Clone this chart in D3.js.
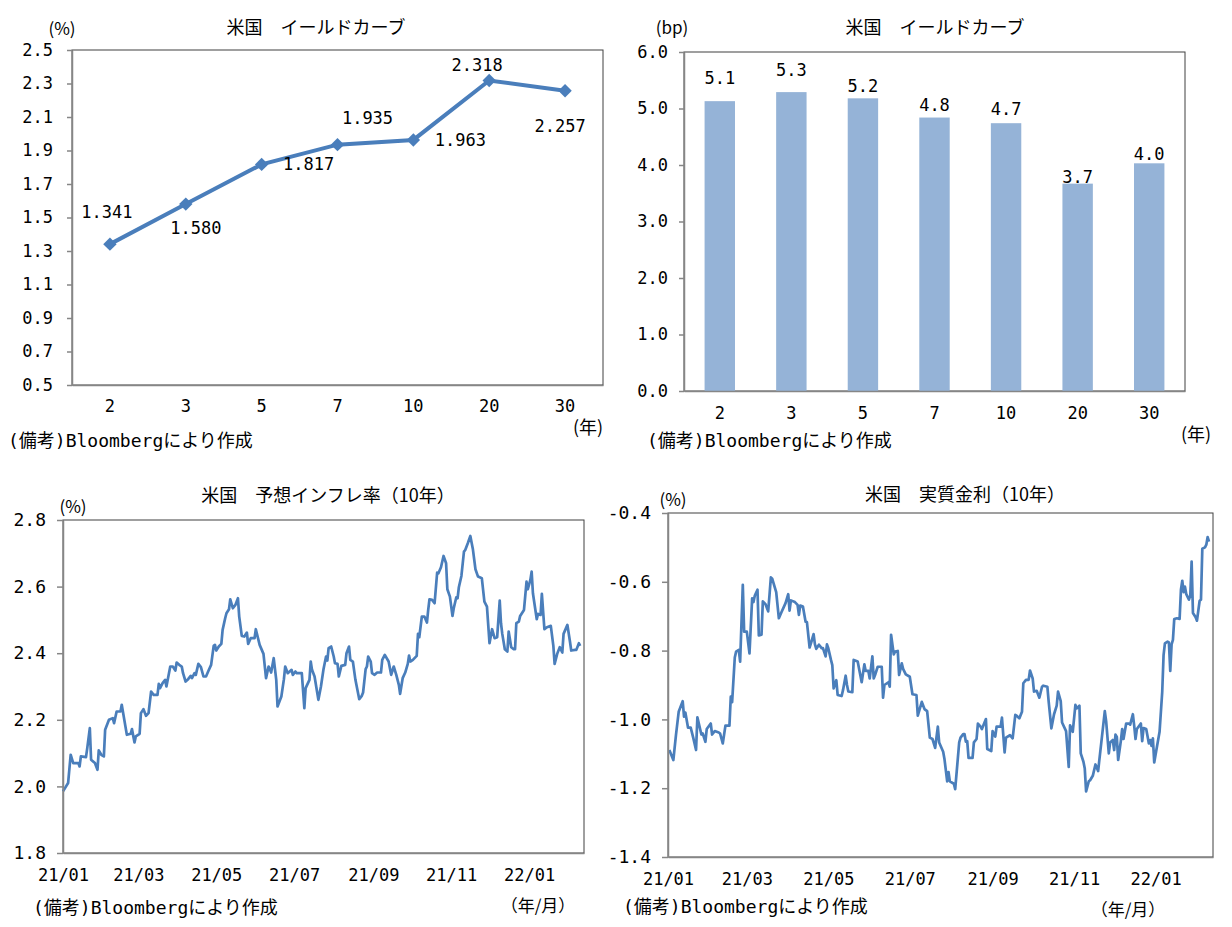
<!DOCTYPE html>
<html>
<head>
<meta charset="utf-8">
<script src="https://cdn.jsdelivr.net/npm/d3@7"></script>
<style>
body { margin: 0; background: #fff; }
</style>
</head>
<body>
<div id="chart"></div>
<script>
// --- top left: US yield curve (%) ---
var maturities = ['2', '3', '5', '7', '10', '20', '30'];
var yields = [1.341, 1.580, 1.817, 1.935, 1.963, 2.318, 2.257];
var yieldTicks = [0.5, 0.7, 0.9, 1.1, 1.3, 1.5, 1.7, 1.9, 2.1, 2.3, 2.5];

// --- top right: change by maturity (bp) ---
var changes = [5.13, 5.29, 5.18, 4.84, 4.74, 3.67, 4.03];
var changeTicks = [0, 1, 2, 3, 4, 5, 6];

// --- bottom: daily series, x = days since 2021-01-01 ---
var inflDays = [0, 4, 6, 8, 12, 13, 14, 18, 19, 21, 22, 25, 27, 28, 30, 32, 33, 36, 39, 40, 42, 45, 46, 50, 53, 54, 56, 57, 60, 61,
    63, 65, 67, 69, 71, 74, 75, 76, 78, 80, 81, 84, 86, 88, 89, 91, 93, 94, 96, 98, 100, 101, 103, 104, 106, 108, 110, 112, 114, 116,
    118, 119, 120, 122, 124, 125, 127, 128, 130, 131, 133, 135, 137, 138, 140, 142, 144, 145, 147, 150, 151, 154, 157, 159, 161, 163, 165, 167, 168, 171,
    173, 174, 176, 179, 180, 182, 183, 187, 189, 190, 193, 194, 195, 197, 200, 202, 204, 206, 207, 208, 210, 212, 213, 215, 216, 218, 221, 222, 224, 225,
    227, 229, 232, 234, 235, 237, 238, 239, 241, 242, 244, 246, 249, 250, 252, 255, 257, 259, 261, 263, 264, 266, 268, 270, 271, 272, 274, 277, 278, 279,
    281, 283, 285, 286, 287, 289, 291, 293, 294, 296, 298, 300, 301, 303, 305, 306, 308, 309, 310, 312, 314, 315, 317, 319, 320, 321, 323, 325, 328, 330,
    332, 334, 336, 338, 340, 342, 343, 344, 346, 348, 349, 351, 353, 354, 355, 357, 358, 361, 363, 364, 366, 367, 368, 371, 372, 374, 375, 377, 379, 382,
    384, 385, 387, 389, 391, 392, 395, 397, 398, 401, 402, 404, 405];
var inflRates = [1.985, 2.01, 2.095, 2.07, 2.07, 2.06, 2.09, 2.088, 2.115, 2.175, 2.08, 2.07, 2.05, 2.108, 2.095, 2.09, 2.17, 2.2, 2.205, 2.19, 2.225, 2.225, 2.245, 2.155, 2.158, 2.172, 2.132, 2.15, 2.158, 2.22,
    2.232, 2.212, 2.22, 2.285, 2.275, 2.275, 2.308, 2.295, 2.31, 2.32, 2.3, 2.36, 2.36, 2.348, 2.372, 2.365, 2.36, 2.34, 2.315, 2.322, 2.332, 2.325, 2.34, 2.335, 2.368, 2.358, 2.33, 2.33, 2.348, 2.365,
    2.422, 2.425, 2.408, 2.42, 2.428, 2.47, 2.505, 2.52, 2.532, 2.562, 2.535, 2.545, 2.565, 2.51, 2.452, 2.45, 2.462, 2.428, 2.445, 2.445, 2.472, 2.425, 2.398, 2.325, 2.36, 2.342, 2.385, 2.32, 2.24, 2.27,
    2.322, 2.36, 2.34, 2.35, 2.335, 2.345, 2.34, 2.34, 2.235, 2.295, 2.32, 2.375, 2.35, 2.33, 2.26, 2.3, 2.352, 2.39, 2.378, 2.415, 2.42, 2.39, 2.37, 2.368, 2.33, 2.362, 2.365, 2.4, 2.42, 2.38,
    2.375, 2.32, 2.262, 2.272, 2.282, 2.352, 2.36, 2.39, 2.375, 2.34, 2.335, 2.342, 2.342, 2.38, 2.395, 2.375, 2.335, 2.36, 2.335, 2.305, 2.278, 2.325, 2.342, 2.368, 2.393, 2.375, 2.38, 2.392, 2.458, 2.448,
    2.51, 2.51, 2.492, 2.53, 2.562, 2.56, 2.55, 2.642, 2.64, 2.658, 2.692, 2.67, 2.592, 2.57, 2.512, 2.535, 2.568, 2.565, 2.598, 2.632, 2.705, 2.71, 2.73, 2.752, 2.732, 2.712, 2.652, 2.63, 2.625, 2.555,
    2.54, 2.43, 2.472, 2.445, 2.448, 2.558, 2.49, 2.458, 2.412, 2.405, 2.465, 2.418, 2.412, 2.412, 2.49, 2.495, 2.512, 2.53, 2.615, 2.592, 2.62, 2.645, 2.58, 2.502, 2.518, 2.515, 2.578, 2.472, 2.478, 2.482,
    2.422, 2.368, 2.398, 2.418, 2.402, 2.458, 2.485, 2.435, 2.408, 2.41, 2.41, 2.43, 2.422];
var inflTicks = [1.8, 2.0, 2.2, 2.4, 2.6, 2.8];

var realDays = [1, 4, 6, 8, 11, 12, 13, 15, 17, 19, 21, 22, 25, 26, 28, 29, 32, 33, 35, 38, 39, 41, 43, 46, 47, 48, 50, 51, 53, 54,
    56, 57, 59, 61, 63, 64, 65, 67, 68, 70, 71, 73, 75, 76, 77, 78, 81, 83, 85, 88, 90, 91, 92, 95, 97, 98, 99, 101, 103, 104,
    106, 107, 109, 110, 111, 113, 115, 116, 118, 119, 120, 122, 123, 124, 126, 127, 130, 131, 133, 134, 135, 138, 139, 142, 145, 147, 148, 150, 151, 153,
    154, 155, 157, 160, 161, 162, 165, 166, 167, 169, 170, 172, 173, 175, 176, 178, 181, 183, 186, 187, 190, 192, 194, 196, 198, 200, 202, 203, 206, 207,
    209, 210, 211, 214, 215, 218, 219, 221, 222, 223, 224, 225, 228, 229, 231, 232, 234, 235, 238, 239, 242, 243, 245, 246, 249, 250, 252, 253, 256, 258,
    260, 261, 263, 265, 266, 268, 270, 271, 273, 274, 276, 278, 280, 281, 284, 285, 287, 289, 291, 292, 294, 295, 298, 300, 301, 303, 305, 306, 308, 309,
    311, 312, 313, 315, 316, 318, 320, 322, 325, 327, 328, 330, 331, 333, 334, 335, 336, 337, 339, 340, 341, 343, 345, 346, 348, 349, 350, 351, 354, 355,
    356, 358, 360, 361, 362, 363, 364, 366, 368, 370, 371, 372, 374, 375, 376, 377, 378, 379, 381, 383, 384, 385, 386, 387, 388, 390, 391, 392, 393, 395,
    396, 398, 399, 400, 402, 403, 404, 405];
var realRates = [-1.089, -1.118, -1.044, -0.978, -0.947, -0.992, -0.98, -1.024, -1.024, -1.055, -1.089, -0.994, -1.044, -1.041, -1.065, -1.028, -1.012, -1.044, -1.034, -1.038, -1.041, -1.07, -1.018, -1.018, -0.934, -0.95, -0.82, -0.803, -0.798, -0.832,
    -0.609, -0.745, -0.745, -0.808, -0.648, -0.659, -0.64, -0.623, -0.756, -0.754, -0.657, -0.665, -0.686, -0.638, -0.587, -0.591, -0.63, -0.706, -0.688, -0.662, -0.636, -0.684, -0.654, -0.659, -0.667, -0.696, -0.669, -0.672, -0.716, -0.717,
    -0.791, -0.779, -0.752, -0.782, -0.795, -0.783, -0.793, -0.793, -0.817, -0.782, -0.793, -0.827, -0.842, -0.91, -0.886, -0.929, -0.932, -0.915, -0.873, -0.9, -0.919, -0.921, -0.827, -0.832, -0.892, -0.84, -0.859, -0.859, -0.881, -0.817,
    -0.881, -0.871, -0.847, -0.847, -0.937, -0.9, -0.892, -0.905, -0.754, -0.811, -0.803, -0.801, -0.871, -0.837, -0.853, -0.869, -0.876, -0.927, -0.929, -0.989, -0.949, -0.97, -0.976, -1.053, -1.057, -1.083, -1.021, -1.067, -1.094, -1.116,
    -1.18, -1.153, -1.18, -1.187, -1.203, -1.067, -1.053, -1.043, -1.043, -1.065, -1.063, -1.112, -1.112, -1.067, -1.057, -1.012, -1.021, -1.028, -0.999, -1.086, -1.092, -1.034, -1.05, -1.021, -1.021, -0.995, -1.096, -1.053, -1.046, -1.055,
    -0.987, -0.989, -0.997, -0.978, -0.895, -0.885, -0.885, -0.858, -0.881, -0.919, -0.917, -0.937, -0.905, -0.902, -0.905, -0.949, -1.026, -0.985, -0.96, -0.919, -0.947, -1.009, -1.034, -1.138, -1.017, -1.036, -0.958, -0.968, -0.96, -1.099,
    -1.123, -1.143, -1.209, -1.18, -1.177, -1.164, -1.131, -1.15, -1.046, -0.976, -1.005, -1.099, -1.067, -1.06, -1.089, -1.044, -1.051, -1.118, -1.063, -1.028, -1.057, -1.012, -1.012, -1.015, -0.985, -1.018, -1.057, -1.028, -1.012, -1.063,
    -1.025, -1.028, -1.07, -1.06, -1.077, -1.055, -1.125, -1.08, -1.036, -0.919, -0.813, -0.779, -0.774, -0.776, -0.859, -0.782, -0.769, -0.708, -0.706, -0.708, -0.623, -0.597, -0.63, -0.614, -0.636, -0.652, -0.64, -0.541, -0.691, -0.703,
    -0.713, -0.655, -0.652, -0.504, -0.5, -0.492, -0.47, -0.483];
var realTicks = [-1.4, -1.2, -1.0, -0.8, -0.6, -0.4];

var startDate = new Date(2021, 0, 1);
var endDate = new Date(2022, 1, 13);

// label offsets (px) for the yield curve values, as placed in the original
var yieldLabelOffsets = [[-3, -32], [10, 24], [47, 0], [30, -27], [47, 0], [-12, -15], [-5, 35]];
var changeLabelOffsets = [-23, -22, -12, -12, -14, -7, -9];

var JP = '"Noto Sans CJK JP", sans-serif';
var NUM = '"DejaVu Sans Mono", monospace';
var BLUE = '#4a7ebb';
var AXIS = '#868686';

var svg = d3.select('#chart')
    .append('svg')
    .attr('width', 1232)
    .attr('height', 927)
    .style('background', '#fff');

function label(x, y, str, font, size, anchor) {
    return svg.append('text')
        .attr('x', x)
        .attr('y', y)
        .attr('dy', '0.35em')
        .attr('font-family', font)
        .attr('font-size', size)
        .attr('text-anchor', anchor || 'middle')
        .attr('fill', '#000')
        .text(str);
}

// source note: Japanese text, half-width parts in the monospaced font
function note(x, y) {
    var t = svg.append('text')
        .attr('x', x)
        .attr('y', y)
        .attr('dy', '0.35em')
        .attr('font-family', JP)
        .attr('font-size', 18)
        .attr('fill', '#000');
    t.append('tspan').attr('font-family', NUM).text('(');
    t.append('tspan').text('備考');
    t.append('tspan').attr('font-family', NUM).text(')Bloomberg');
    t.append('tspan').text('により作成');
}

function frame(x0, x1, y0, y1) {
    svg.append('rect')
        .attr('x', x0)
        .attr('y', y0)
        .attr('width', x1 - x0)
        .attr('height', y1 - y0)
        .attr('fill', 'none')
        .attr('stroke', '#404040')
        .attr('stroke-width', 1);
}

function styleAxis(g, size) {
    g.attr('font-family', NUM).attr('font-size', size);
    g.select('.domain').attr('stroke', AXIS).attr('stroke-width', 1.5);
    g.selectAll('.tick line').attr('stroke', AXIS).attr('stroke-width', 1.5);
    g.selectAll('.tick text').attr('fill', '#000');
}

// ===== top left: yield curve =====
var xa = d3.scaleBand().domain(maturities).range([72, 603]);
var ya = d3.scaleLinear().domain([0.5, 2.5]).range([385, 50]);
frame(72, 603, 50, 385);

svg.append('g')
    .attr('transform', 'translate(72,0)')
    .call(d3.axisLeft(ya).tickValues(yieldTicks).tickFormat(function(d) { return d.toFixed(1); })
        .tickSize(5).tickSizeOuter(0).tickPadding(14))
    .call(styleAxis, 17);
svg.append('g')
    .attr('transform', 'translate(0,385)')
    .call(d3.axisBottom(xa).tickSize(0).tickPadding(15))
    .call(styleAxis, 17);

var lineA = d3.line()
    .x(function(d, i) { return xa(maturities[i]) + xa.bandwidth() / 2; })
    .y(function(d) { return ya(d); });
svg.append('path')
    .datum(yields)
    .attr('d', lineA)
    .attr('fill', 'none')
    .attr('stroke', BLUE)
    .attr('stroke-width', 4);
svg.selectAll('.mk')
    .data(yields)
    .enter()
    .append('path')
    .attr('class', 'mk')
    .attr('d', d3.symbol(d3.symbolSquare, 90))
    .attr('transform', function(d, i) {
        return 'translate(' + (xa(maturities[i]) + xa.bandwidth() / 2) + ',' + ya(d) + ') rotate(45)';
    })
    .attr('fill', BLUE);
yields.forEach(function(d, i) {
    var px = xa(maturities[i]) + xa.bandwidth() / 2;
    label(px + yieldLabelOffsets[i][0], ya(d) + yieldLabelOffsets[i][1], d.toFixed(3), NUM, 17);
});

label(62, 29, '(%)', JP, 17);
label(316, 28, '米国　イールドカーブ', JP, 18);
label(588, 428, '(年)', JP, 18);
note(8, 441);

// ===== top right: bar chart =====
var xb = d3.scaleBand().domain(maturities).range([684, 1185]).paddingInner(0.575).paddingOuter(0.2875);
var yb = d3.scaleLinear().domain([0, 6]).range([391, 52]);
frame(684, 1185, 52, 391);

svg.selectAll('.bar')
    .data(changes)
    .enter()
    .append('rect')
    .attr('class', 'bar')
    .attr('x', function(d, i) { return xb(maturities[i]); })
    .attr('y', function(d) { return yb(d); })
    .attr('width', xb.bandwidth())
    .attr('height', function(d) { return yb(0) - yb(d); })
    .attr('fill', '#95b3d7');

svg.append('g')
    .attr('transform', 'translate(684,0)')
    .call(d3.axisLeft(yb).tickValues(changeTicks).tickFormat(function(d) { return d.toFixed(1); })
        .tickSize(5).tickSizeOuter(0).tickPadding(11))
    .call(styleAxis, 17);
svg.append('g')
    .attr('transform', 'translate(0,391)')
    .call(d3.axisBottom(xb).tickSize(0).tickPadding(16))
    .call(styleAxis, 17);

changes.forEach(function(d, i) {
    label(xb(maturities[i]) + xb.bandwidth() / 2, yb(d) + changeLabelOffsets[i], d.toFixed(1), NUM, 17);
});

label(672, 28, '(bp)', JP, 17);
label(935, 28, '米国　イールドカーブ', JP, 18);
label(1196, 435, '(年)', JP, 18);
note(647, 441);

// ===== bottom panels: time series =====
function dayToDate(n) {
    return d3.timeDay.offset(startDate, n);
}

function series(days, values, ticks, xr, yr) {
    var x = d3.scaleTime().domain([startDate, endDate]).range(xr);
    var y = d3.scaleLinear().domain([ticks[0], ticks[ticks.length - 1]]).range(yr);
    frame(xr[0], xr[1], yr[1], yr[0]);

    var line = d3.line()
        .x(function(d, i) { return x(dayToDate(days[i])); })
        .y(function(d) { return y(d); });
    svg.append('path')
        .datum(values)
        .attr('d', line)
        .attr('fill', 'none')
        .attr('stroke', BLUE)
        .attr('stroke-width', 2.7)
        .attr('stroke-linejoin', 'round');

    svg.append('g')
        .attr('transform', 'translate(' + xr[0] + ',0)')
        .call(d3.axisLeft(y).tickValues(ticks).tickFormat(function(d) { return d.toFixed(1); })
            .tickSize(6).tickSizeOuter(0).tickPadding(11))
        .call(styleAxis, 18);
    svg.append('g')
        .attr('transform', 'translate(0,' + yr[0] + ')')
        .call(d3.axisBottom(x).ticks(d3.timeMonth.every(2)).tickFormat(d3.timeFormat('%y/%m'))
            .tickSize(0).tickSizeOuter(0).tickPadding(16))
        .call(styleAxis, 17);
}

series(inflDays, inflRates, inflTicks, [63, 584], [853, 520]);
label(73, 507, '(%)', JP, 17);
label(328, 496, '米国　予想インフレ率（10年）', JP, 18);
label(538, 906, '（年/月）', JP, 17);
note(33, 908);

series(realDays, realRates, realTicks, [668, 1213], [857, 513]);
label(673, 500, '(%)', JP, 17);
label(965, 495, '米国　実質金利（10年）', JP, 18);
label(1128, 910, '（年/月）', JP, 17);
note(623, 907);
</script>
</body>
</html>
